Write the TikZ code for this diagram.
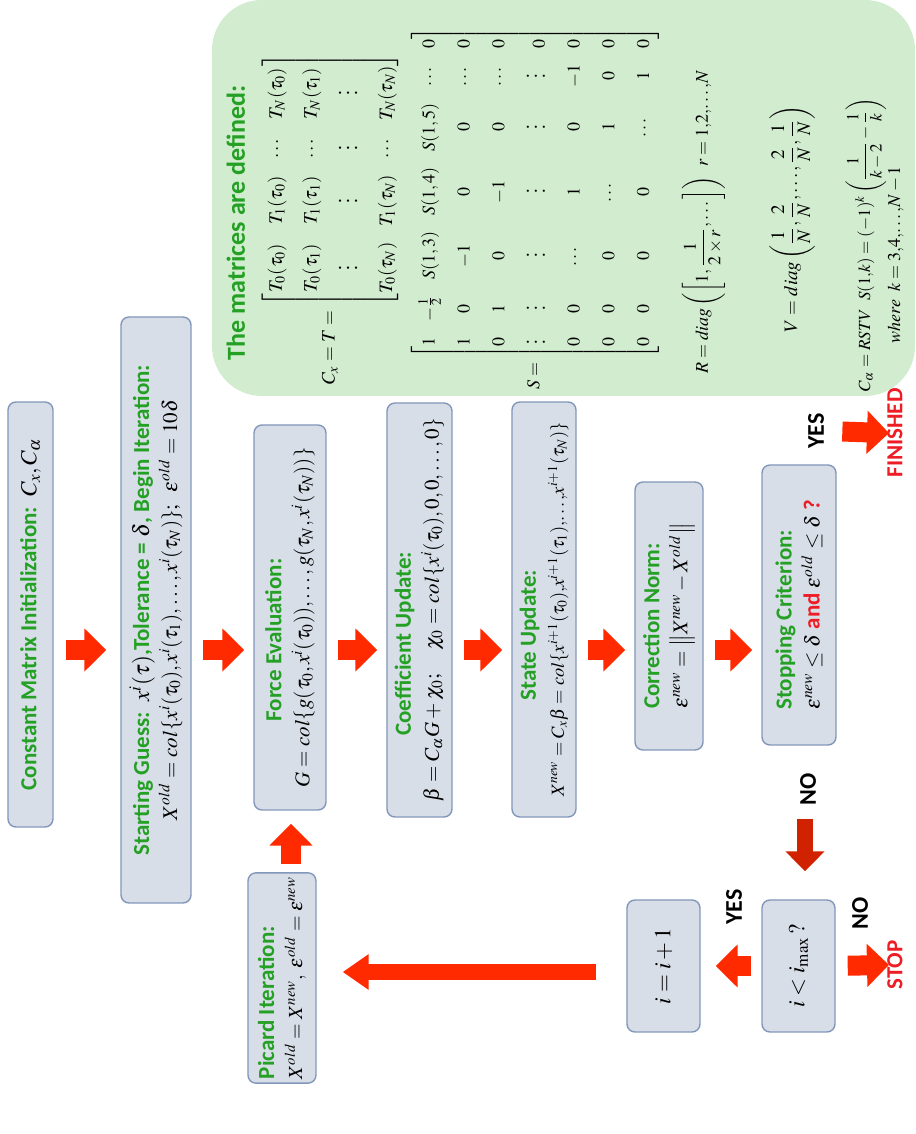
\documentclass[tikz,border=0pt]{standalone}
\usepackage{amsmath}
\usepackage{mathptmx}
\usepackage[no-math]{fontspec}
\setmainfont{Carlito}
\usepackage{xcolor}
\usepackage{tikz}
\usetikzlibrary{arrows.meta}
\definecolor{boxbg}{HTML}{D8DEE8}
\definecolor{boxline}{HTML}{8397BA}
\definecolor{defbg}{HTML}{D1ECCE}
\definecolor{titlegreen}{HTML}{24A024}
\definecolor{arrowred}{HTML}{FF2A00}
\definecolor{nored}{HTML}{D02200}
\definecolor{labelred}{HTML}{EE1C25}
\newcommand{\flowtitle}[1]{{\bfseries\color{titlegreen}#1}}
\newcommand{\fm}[2][10.5]{{\fontsize{#1}{13}\selectfont$#2$}}
\renewcommand{\arraystretch}{1.45}

\begin{document}
\begin{tikzpicture}[x=0.5pt, y=0.5pt, rotate=90, transform shape,
    flowbox/.style={draw=boxline, fill=boxbg, line width=0.7pt, rounded corners=4pt, inner sep=2pt, font=\fontsize{11.5}{14}\selectfont},
    deftext/.style={inner sep=0pt, font=\fontsize{9.5}{12}\selectfont},
    flowlabel/.style={inner sep=1pt, font=\fontsize{12}{14}\selectfont\bfseries},
    endlabel/.style={inner sep=1pt, text=labelred, font=\fontsize{11.5}{14}\selectfont\bfseries},
    flowarrow/.style={draw=arrowred, line width=10pt, -{Triangle[width=21pt,length=11pt]}, shorten <=5.5pt, shorten >=4.5pt}]
  \useasboundingbox (0,0) rectangle (1134,915);

  % definitions
  \fill[defbg, rounded corners=25pt] (738,0) rectangle (1134,703);
  \node[deftext, font=\fontsize{13}{15}\selectfont, anchor=base] (deftitle) at (911,670) {\flowtitle{The matrices are defined:}};
  \node[deftext] (tmat) at (915,585) {\setlength{\arraycolsep}{4pt}$C_x = T = \begin{bmatrix}
      T_0(\tau_0) & T_1(\tau_0) & \cdots & T_N(\tau_0)\\
      T_0(\tau_1) & T_1(\tau_1) & \cdots & T_N(\tau_1)\\
      \vdots & \vdots & \vdots & \vdots\\
      T_0(\tau_N) & T_1(\tau_N) & \cdots & T_N(\tau_N)
    \end{bmatrix}$};
  \node[deftext, font=\fontsize{9}{12}\selectfont, anchor=west] (smat) at (744,380) {\setlength{\arraycolsep}{4pt}$S = \begin{bmatrix}
      1 & -\tfrac{1}{2} & S(1,3) & S(1,4) & S(1,5) & \cdots & 0\\
      1 & 0 & -1 & 0 & 0 & \cdots & 0\\
      0 & 1 & 0 & -1 & 0 & \cdots & 0\\
      \vdots & \vdots & \vdots & \vdots & \vdots & \vdots & 0\\
      0 & 0 & \cdots & 1 & 0 & -1 & 0\\
      0 & 0 & 0 & \cdots & 1 & 0 & 0\\
      0 & 0 & 0 & 0 & \cdots & 1 & 0
    \end{bmatrix}$};
  \node[deftext, font=\fontsize{9}{12}\selectfont, anchor=base] (rdef) at (912,207) {$R = diag\left(\left[1,\dfrac{1}{2\times r},\dots\right]\right)\ \ r = 1,\!2,\!\dots,\!N$};
  \node[deftext, anchor=base] (vdef) at (915,118) {$V = diag\left(\dfrac{1}{N},\dfrac{2}{N},\dots,\dfrac{2}{N},\dfrac{1}{N}\right)$};
  \node[deftext, font=\fontsize{8.5}{12}\selectfont, anchor=base west] (cadef) at (742,45) {$C_\alpha = RSTV\ \ S(1,\!k) = (-1)^k\left(\dfrac{1}{k-2}-\dfrac{1}{k}\right)$};
  \node[deftext, font=\fontsize{9}{12}\selectfont, anchor=base] (kdef) at (879,15) {$where\ \ k = 3,\!4,\!\dots,\!N-1$};

  % main column
  \node[flowbox, minimum width=212.5pt, minimum height=22.5pt] (init) at (519.5,884.5) {\flowtitle{Constant Matrix Initialization:}\ \ $C_x, C_\alpha$};
  \node[flowbox, minimum width=293pt, minimum height=35pt, align=center] (start) at (524,759) {\flowtitle{Starting Guess:}\ \ $x^i(\tau)$\flowtitle{,Tolerance =} $\delta$\flowtitle{, Begin Iteration:}\\
    \fm{X^{old} = col\{x^i(\tau_0),x^i(\tau_1),\dots,x^i(\tau_N)\};\ \ \varepsilon^{old} = 10\delta}};
  \node[flowbox, minimum width=192.5pt, minimum height=36pt, align=left] (force) at (516.5,625) {\hspace*{33pt}\flowtitle{Force Evaluation:}\\
    \fm{G = col\{g(\tau_0,x^i(\tau_0)),\dots,g(\tau_N,x^i(\tau_N))\}}};
  \node[flowbox, minimum width=207pt, minimum height=32.5pt, align=left] (coef) at (524,495.5) {\hspace*{33pt}\flowtitle{Coefficient Update:}\\
    \fm{\beta = C_\alpha G + \chi_0;\quad \chi_0 = col\{x^i(\tau_0),0,0,\dots,0\}}};
  \node[flowbox, minimum width=207.5pt, minimum height=32pt, align=left] (state) at (524.5,371) {\hspace*{48pt}\flowtitle{State Update:}\\
    \fm[9.2]{X^{new} = C_x\beta = col\{x^{i+1}(\tau_0),\!x^{i+1}(\tau_1),\!\dots,\!x^{i+1}(\tau_N)\}}};
  \node[flowbox, minimum width=134pt, minimum height=34pt, align=left] (norm) at (518,246) {\flowtitle{Correction Norm:}\\
    \fm{\varepsilon^{new} = \left\|X^{new} - X^{old}\right\|}};
  \node[flowbox, minimum width=140pt, minimum height=37pt, align=left] (stop) at (529,116) {\flowtitle{Stopping Criterion:}\\
    \fm{\varepsilon^{new} \le \delta} \textcolor{labelred}{\bfseries and} \fm{\varepsilon^{old} \le \delta} \textcolor{labelred}{\bfseries ?}};

  % loop
  \node[flowbox, minimum width=66pt, minimum height=36.5pt] (imax) at (168,116.5) {$i < i_{\max}\,?$};
  \node[flowbox, minimum width=66pt, minimum height=36.5pt] (inc) at (168,251.5) {$i = i+1$};
  \node[flowbox, minimum width=100pt, minimum height=34pt, align=left] (picard) at (156,633) {\flowtitle{Picard Iteration:}\\
    \fm[10]{X^{old} = X^{new},\ \varepsilon^{old} = \varepsilon^{new}}};

  % labels
  \node[flowlabel] (yesfin) at (703,99) {YES};
  \node[endlabel] (finished) at (701,20) {FINISHED};
  \node[flowlabel] (yesinc) at (227,181) {YES};
  \node[flowlabel] (nostop) at (221,55) {NO};
  \node[endlabel] (stoplbl) at (169,20) {STOP};
  \node[flowlabel] (noloop) at (345,107) {NO};

  % arrows
  \coordinate (ax) at (484,0);
  \coordinate (bx) at (162,0);
  \coordinate (fy) at (0,624);
  \coordinate (ny) at (0,110);
  \draw[flowarrow, shorten <=6pt, shorten >=7pt] (init.south -| ax) -- (start.north -| ax);
  \draw[flowarrow] (start.south -| ax) -- (force.north -| ax);
  \draw[flowarrow] (force.south -| ax) -- (coef.north -| ax);
  \draw[flowarrow] (coef.south -| ax) -- (state.north -| ax);
  \draw[flowarrow] (state.south -| ax) -- (norm.north -| ax);
  \draw[flowarrow] (norm.south -| ax) -- (stop.north -| ax);
  \draw[flowarrow, shorten <=8pt, shorten >=-2pt] (yesfin.south) -- (finished.north);
  \draw[draw=nored, line width=8pt, -{Triangle[width=19pt,length=10pt]}, shorten <=36.5pt, shorten >=14pt] (stop.west |- ny) -- (imax.east |- ny);
  \draw[flowarrow, shorten <=5pt, shorten >=7.5pt] (imax.north) -- (inc.south);
  \draw[flowarrow, shorten <=6pt, shorten >=-2pt] (imax.south) -- (stoplbl.north);
  \draw[draw=arrowred, line width=8pt, -{Triangle[width=17pt,length=13pt]}, shorten <=15pt, shorten >=13pt] (inc.north -| bx) -- (picard.south -| bx);
  \draw[flowarrow, shorten <=4pt, shorten >=6.5pt] (picard.east |- fy) -- (force.west |- fy);
\end{tikzpicture}
\end{document}
